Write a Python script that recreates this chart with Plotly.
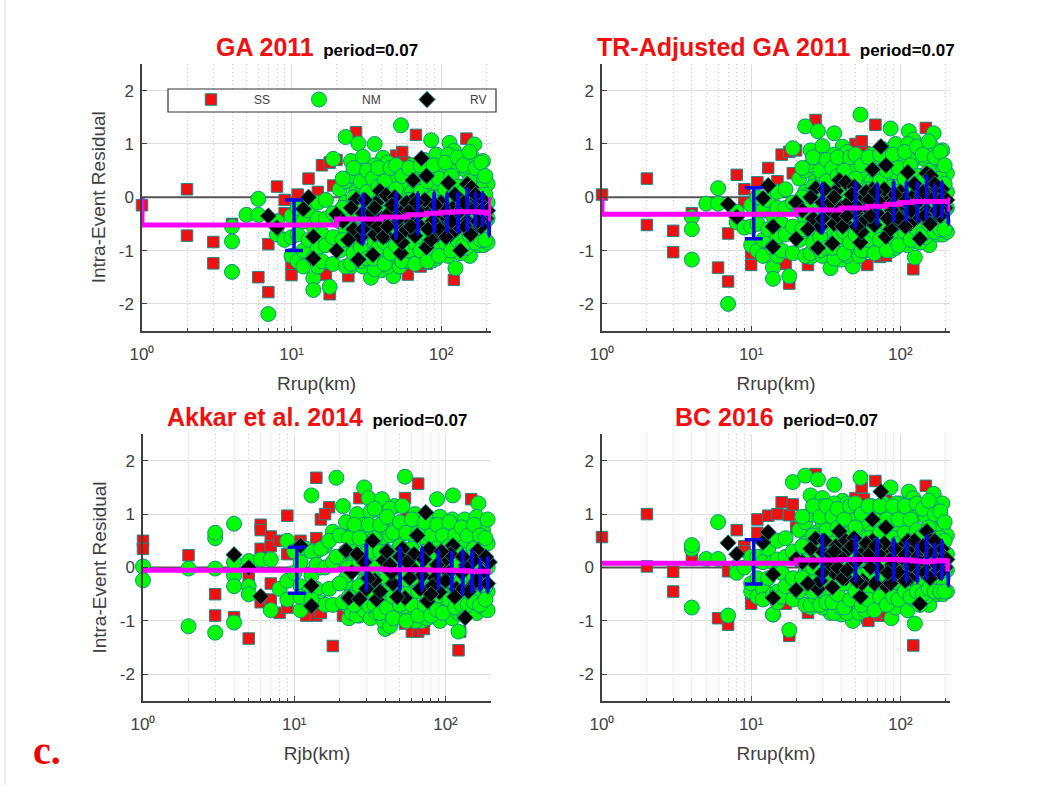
import math
import plotly.graph_objects as go

# ---------- shared axis labels ----------
X_TICKS = [1, 10, 100]
X_TICK_TEXT = ["10\u2070", "10\u00b9", "10\u00b2"]
X_MINOR = [2, 3, 4, 5, 6, 7, 8, 9, 20, 30, 40, 50, 60, 70, 80, 90, 200]
Y_TICKS = [-2, -1, 0, 1, 2]
Y_TICK_TEXT = ["-2", "-1", "0", "1", "2"]
TITLES = ["GA 2011", "TR-Adjusted GA 2011", "Akkar et al. 2014", "BC 2016"]
PERIOD = "period=0.07"
X_LABELS = ["Rrup(km)", "Rrup(km)", "Rjb(km)", "Rrup(km)"]
Y_LABEL = "Intra-Event Residual"
ZERO_R = [1, 200]
ZERO_V = [0, 0]

# ---------- strike-slip records (Rrup panels) ----------
SS_R = [1, 2, 2, 3, 3, 4, 6, 7, 7, 8, 9, 9, 10, 10, 11, 11, 13, 15, 16, 16, 17, 18, 18, 19, 20,
        24, 27, 27, 38, 50, 55, 57, 60, 61, 68, 73, 80, 80, 122, 148]
SS_GA = [-.15, .15, -.72, -.84, -1.24, -.5, -1.5, -.88, -1.78, .2, -.05, -.3, -1.46, -1.25, .05, -.2, .35, .1, .6, -.7, -1.45, -1.82, .65, .22, .7,
         -1.48, 1.22, -1.0, .6, .78, .85, .65, -1.45, -1.1, 1.17, -1.3, -1.25, .4, -1.55, 1.1]
SS_TR = [.05, .35, -.52, -.63, -1.03, -.3, -1.32, -.68, -1.58, .42, .15, -.1, -1.27, -1.05, .28, 0, .55, .3, .8, -.5, -1.25, -1.62, .85, .45, .88,
         -1.27, 1.45, -.8, .75, 1.0, 1.05, .85, -1.27, -.9, 1.36, -1.12, -1.1, .6, -1.35, 1.3]
SS_BC = [.57, 1.0, .02, -.08, -.45, .15, -.95, -.07, -1.07, .7, .4, .3, -.68, -.48, .9, .65, .97, 1.0, 1.22, -.1, -.68, -1.28, .98, 1.18, .75,
         -.85, 1.75, -.3, 1.1, 1.3, 1.5, 1.28, -.95, -1.0, 1.62, -.9, -.85, 1.25, -1.46, 1.53]

# ---------- normal records (Rrup panels) ----------
NM_R = [4, 4, 4, 5, 6, 6, 7, 8, 8, 9, 10, 10, 14, 14, 18, 19, 23, 25, 28, 30, 36, 41, 54, 86, 98, 114, 122, 167, 191,
        34, 48, 40, 125, 87, 156, 25, 10,
        11, 11, 11, 12, 12, 12, 13, 13, 14, 14, 15, 15, 15, 15, 16, 16, 17, 17, 17,
        19, 19, 19, 21, 21, 21, 23, 23, 23, 23, 25, 25, 25, 25, 27, 27, 27,
        30, 30, 30, 30, 30, 33, 33, 33, 33, 36, 36, 36, 36, 36, 40, 40, 40, 40,
        44, 44, 44, 44, 44, 48, 48, 48, 48, 53, 53, 53, 53, 53, 58, 58, 58, 58,
        64, 64, 64, 64, 70, 70, 70, 70, 77, 77, 77, 77, 85, 85, 85, 85,
        93, 93, 93, 93, 93, 102, 102, 102, 102, 112, 112, 112, 112, 112, 123, 123, 123, 123,
        135, 135, 135, 135, 135, 148, 148, 148, 148, 162, 162, 162, 162,
        178, 178, 178, 178, 192, 192, 192, 192, 205, 205, 205, 205,
        # second pass through the dense cloud
        22, 22, 22, 26, 26, 26, 26, 29, 29, 29, 29, 32, 32, 32, 32, 35, 35, 35, 35, 38, 38, 38, 38,
        42, 42, 42, 42, 46, 46, 46, 46, 50, 50, 50, 50, 55, 55, 55, 55, 61, 61, 61, 61, 67, 67, 67, 67,
        73, 73, 73, 73, 81, 81, 81, 81, 89, 89, 89, 89, 97, 97, 97, 97, 107, 107, 107, 107, 117, 117, 117, 117,
        129, 129, 129, 129, 141, 141, 141, 141, 155, 155, 155, 155, 170, 170, 170, 170, 185, 185, 185, 185, 198, 198, 198, 198]
NM_GA = [-.55, -.83, -1.4, -.33, -.03, -.33, -2.19, -.45, -.7, -.8, -.35, -1.1, -1.52, -1.74, -1.68, .72, 1.13, .68, 1.01, .76, 1.0, .74, 1.35, 1.07, .72, 1.02, .87, .99, .68,
         -1.51, -1.48, -1.37, -1.33, -1.19, -1.1, -1.3, -.75,
         -.2, -.7, -1.2, -.45, -1.0, -1.3, -.25, -.8, -.55, -1.15, -.1, -.4, -.95, -1.3, -.7, -1.2, -.05, -.4, -.9,
         -.3, -.75, -1.25, .15, -.45, -1.0, .3, -.1, -.6, -1.3, .4, -.3, -.85, -1.25, .1, -.55, -1.1,
         .5, .2, -.2, -.7, -1.3, .35, -.05, -.5, -1.0, .6, .1, -.35, -.85, -1.35, .45, -.1, -.6, -1.15,
         .65, .2, -.3, -.8, -1.3, .35, -.15, -.65, -1.1, .55, .05, -.45, -.95, -1.3, .25, -.25, -.75, -1.2,
         .6, .1, -.4, -.9, .4, -.15, -.65, -1.2, .7, .2, -.3, -.85, .45, -.05, -.55, -1.05,
         .8, .25, -.25, -.75, -1.15, .55, .05, -.45, -.95, .8, .3, -.2, -.7, -1.1, .5, 0, -.5, -.95,
         .7, .2, -.3, -.8, -1.05, .5, -.05, -.55, -.95, .75, .25, -.3, -.75,
         .45, -.1, -.55, -.9, .3, -.2, -.65, -.9, .25, -.1, -.4, -.85,
         .35, -.2, -.8, .55, 0, -.6, -1.05, .3, -.35, -.95, -1.2, .5, .1, -.3, -1.15, .35, -.15, -.6, -1.15, .55, .2, -.4, -.95,
         .3, -.3, -.85, -1.25, .55, .05, -.55, -1.05, .6, .15, -.4, -.9, .4, -.2, -.7, -1.2, .55, -.05, -.6, -1.0, .3, -.3, -.85, -1.25,
         .6, .1, -.45, -1.0, .3, -.2, -.7, -1.2, .6, 0, -.5, -.95, .35, -.1, -.6, -1.1, .65, .15, -.35, -.85, .4, -.1, -.6, -1.0,
         .75, .2, -.3, -.8, .6, .1, -.4, -.9, .85, .3, -.2, -.7, .55, .05, -.4, -.85, .65, .15, -.35, -.8, .4, .05, -.45, -.8]
NM_TR = [-.37, -.6, -1.17, -.12, .17, -.12, -2.0, -.27, -.47, -.57, -.15, -.9, -1.32, -1.53, -1.48, .92, 1.33, .88, 1.24, .96, 1.2, .95, 1.55, 1.29, .92, 1.24, 1.08, 1.2, .88,
         -1.33, -1.3, -1.17, -1.13, -1.0, -.9, -1.12, -.55,
         0, -.5, -1.0, -.25, -.8, -1.1, -.05, -.6, -.35, -.95, .1, -.2, -.75, -1.1, -.5, -1.0, .15, -.2, -.7,
         -.1, -.55, -1.05, .35, -.25, -.8, .5, .1, -.4, -1.1, .6, -.1, -.65, -1.05, .3, -.35, -.9,
         .7, .4, 0, -.5, -1.1, .55, .15, -.3, -.8, .8, .3, -.15, -.65, -1.15, .65, .1, -.4, -.95,
         .85, .4, -.1, -.6, -1.1, .55, .05, -.45, -.9, .75, .25, -.25, -.75, -1.1, .45, -.05, -.55, -1.0,
         .8, .3, -.2, -.7, .6, .05, -.45, -1.0, .9, .4, -.1, -.65, .65, .15, -.35, -.85,
         1.0, .45, -.05, -.55, -.95, .75, .25, -.25, -.75, 1.0, .5, 0, -.5, -.9, .7, .2, -.3, -.75,
         .9, .4, -.1, -.6, -.85, .7, .15, -.35, -.75, .95, .45, -.1, -.55,
         .65, .1, -.35, -.7, .5, 0, -.45, -.7, .45, .1, -.2, -.65,
         .55, 0, -.6, .75, .2, -.4, -.85, .5, -.15, -.75, -1.0, .7, .3, -.1, -.95, .55, .05, -.4, -.95, .75, .4, -.2, -.75,
         .5, -.1, -.65, -1.05, .75, .25, -.35, -.85, .8, .35, -.2, -.7, .6, 0, -.5, -1.0, .75, .15, -.4, -.8, .5, -.1, -.65, -1.05,
         .8, .3, -.25, -.8, .5, 0, -.5, -1.0, .8, .2, -.3, -.75, .55, .1, -.4, -.9, .85, .35, -.15, -.65, .6, .1, -.4, -.8,
         .95, .4, -.1, -.6, .8, .3, -.2, -.7, 1.05, .5, 0, -.5, .75, .25, -.2, -.65, .85, .35, -.15, -.6, .6, .25, -.25, -.6]
NM_BC = [.35, .42, -.75, .16, .85, .16, -.9, .02, -.1, 0, .2, -.45, -.88, -.88, -1.17, 1.6, 1.72, 1.35, 1.65, 1.3, 1.55, 1.25, 1.68, 1.5, 1.2, 1.42, 1.3, 1.38, 1.2,
         -.85, -1.0, -.88, -1.05, -.95, -.7, -.75, -.3,
         .2, -.2, -.55, .1, -.4, -.6, .35, -.2, .1, -.5, .5, .15, -.45, -.65, -.1, -.55, .55, .2, -.35,
         .3, -.2, -.6, .7, .15, -.45, .85, .45, -.1, -.7, 1.0, .3, -.3, -.7, .65, -.1, -.55,
         1.15, .85, .4, -.15, -.75, .95, .55, .1, -.5, 1.2, .7, .25, -.3, -.85, 1.05, .5, 0, -.75,
         1.2, .8, .3, -.3, -.85, .95, .45, -.1, -.6, 1.1, .6, .15, -.4, -.85, .85, .35, -.2, -.8,
         1.15, .65, .15, -.45, .95, .4, -.15, -.75, 1.2, .7, .2, -.4, 1.0, .5, 0, -.65,
         1.2, .7, .2, -.3, -.75, 1.05, .55, .05, -.5, 1.15, .75, .25, -.3, -.8, .95, .45, -.05, -.6,
         1.1, .65, .15, -.35, -.7, .95, .4, -.1, -.55, 1.15, .7, .2, -.35,
         .85, .35, -.1, -.5, .75, .25, -.2, -.5, .6, .25, -.05, -.45,
         .95, .4, -.2, 1.15, .6, 0, -.45, .95, .25, -.35, -.7, 1.15, .7, .3, -.65, .95, .45, 0, -.65, 1.1, .75, .15, -.5,
         .9, .3, -.3, -.75, 1.15, .65, .05, -.6, 1.2, .75, .2, -.45, 1.0, .4, -.15, -.7, 1.15, .55, -.05, -.6, .9, .3, -.25, -.8,
         1.15, .65, .1, -.55, .9, .35, -.15, -.7, 1.15, .55, 0, -.55, .9, .45, -.05, -.6, 1.15, .65, .15, -.45, .9, .4, -.1, -.55,
         1.2, .7, .2, -.45, 1.1, .6, .1, -.5, 1.25, .75, .25, -.4, 1.0, .5, .05, -.45, 1.05, .55, .05, -.45, .85, .5, -.05, -.45]

# ---------- reverse records (Rrup panels) ----------
RV_R = [7, 8, 12, 13, 14, 14, 20, 20, 28, 35, 27, 26, 37, 36, 39, 43, 43, 54, 56, 57, 49, 65, 74, 80, 80, 67, 84, 112, 135, 150, 160,
        127, 103, 173, 30, 33, 40, 45, 50, 60, 65, 70, 75, 90, 95, 100, 110, 120, 130, 140, 150, 165, 180, 190, 200,
        22, 25, 29, 31, 34, 38, 41, 47, 52, 55, 59, 63, 72, 78, 86, 88, 98, 106, 116, 124, 145, 155, 170, 185, 195,
        24, 30, 36, 44, 51, 62, 68, 82, 92, 108, 118, 142, 158, 176, 205]
RV_GA = [-.35, -.57, -.22, 0, -.74, -1.15, -1.0, -.32, -1.17, -1.08, -.04, -.6, -.1, -.7, .12, .04, -.72, -1.05, -.66, -.22, 0, .32, .73, .4, -.94, -.72, -.2, .27, -1.0, .25, .18,
         -.6, -.54, -.54, -.3, -.5, -.4, -.3, -.5, -.4, -.05, -.5, -.2, -.35, -.7, -.1, -.4, -.2, -.3, -.15, -.45, -.1, -.3, -.05, -.4,
         -.45, -.2, -.75, -.05, -.3, -.55, -.75, -.15, -.4, -.85, -.1, -.55, -.3, -.05, -.8, -.45, -.6, -.25, -.7, .05, -.55, -.2, .05, -.55, -.2,
         -.8, -.6, -.2, -.55, -.75, -.25, -.1, -.6, -.15, -.75, -.45, -.1, -.7, -.45, -.25]
RV_TR = [-.13, -.37, -.02, .22, -.55, -.93, -.78, -.1, -.95, -.87, .17, -.4, .12, -.5, .32, .28, -.5, -.85, -.47, 0, .2, .52, .95, .6, -.74, -.52, 0, .47, -.78, .45, .4,
         -.4, -.33, -.33, -.1, -.3, -.2, -.1, -.3, -.2, .15, -.3, 0, -.15, -.5, .1, -.2, 0, -.1, .05, -.25, .1, -.1, .15, -.2,
         -.25, 0, -.55, .15, -.1, -.35, -.55, .05, -.2, -.65, .1, -.35, -.1, .15, -.6, -.25, -.4, -.05, -.5, .25, -.35, 0, .25, -.35, 0,
         -.6, -.4, 0, -.35, -.55, -.05, .1, -.4, .05, -.55, -.25, .1, -.5, -.25, -.05]
RV_BC = [.46, .25, .47, .66, -.13, -.57, -.42, .16, -.4, -.37, .54, .1, .4, -.1, .68, .5, -.2, -.55, -.25, .3, .55, .9, 1.42, .75, -.35, -.3, .2, .5, -.68, .68, .5,
         0, .1, -.1, .3, .05, .2, .35, .1, .2, .5, 0, .3, .2, -.15, .35, .1, .3, .2, .35, .05, .4, .2, .35, 0,
         .1, .35, -.25, .5, .25, 0, -.2, .4, .15, -.3, .45, 0, .25, .45, -.3, .05, -.1, .25, -.2, .5, -.1, .3, .5, -.1, .2,
         -.3, -.1, .3, -.05, -.25, .25, .4, -.1, .35, -.25, .05, .4, -.2, .05, .15]

# ---------- Akkar et al. 2014 (Rjb panel) ----------
SS_RJB = [1, 1, 2, 3, 3, 4, 5, 5, 6, 6, 6, 6, 7, 7, 7, 7, 8, 8, 9, 9, 9, 11, 12, 14, 14, 14, 15, 15, 17, 16, 18, 21,
          27, 54, 56, 66, 54, 60, 66, 72, 122, 148, 125]
SS_AK = [.5, .35, .23, -.5, -.9, -.93, -1.33, -.2, .8, .7, .35, -.65, .58, .4, -.6, -.3, .5, -.85, .97, .25, -.75, .5, -.9, 1.68, .55, -.9, -.85, .9, 1.13, 1.0, -1.47, -.9,
         1.3, 1.3, .95, 1.57, -1.05, -1.2, -1.2, -1.15, -1.55, 1.28, -1.2]
NM_RJB = [1, 1, 2, 2, 3, 3, 3, 3, 4, 4, 4, 4, 4, 5, 5, 5, 6, 7, 7, 8, 9, 9, 9, 11, 10, 12, 13, 13, 14, 15, 16, 19, 18, 20, 21, 23, 27, 29, 31, 38, 46, 40, 54, 70, 88, 112, 122, 165, 175,
          22, 22, 22, 22, 24, 24, 24, 24, 26, 26, 26, 26, 26, 29, 29, 29, 29, 32, 32, 32, 32, 32, 35, 35, 35, 35, 39, 39, 39, 39, 39,
          43, 43, 43, 43, 43, 47, 47, 47, 47, 52, 52, 52, 52, 52, 57, 57, 57, 57, 63, 63, 63, 63, 63, 69, 69, 69, 69,
          76, 76, 76, 76, 76, 84, 84, 84, 84, 92, 92, 92, 92, 92, 101, 101, 101, 101, 111, 111, 111, 111, 111,
          122, 122, 122, 122, 134, 134, 134, 134, 134, 147, 147, 147, 147, 161, 161, 161, 161, 161, 177, 177, 177, 177, 190, 190, 190, 190, 190, 203, 203, 203, 203,
          # second pass through the dense cloud
          10, 11, 11, 12, 13, 14, 14, 15, 15, 16, 16, 17, 17, 18, 18, 19, 20, 20, 21, 11, 13,
          23, 23, 23, 25, 25, 25, 27, 27, 27, 31, 31, 31, 31, 34, 34, 34, 34, 37, 37, 37, 37, 41, 41, 41, 41,
          45, 45, 45, 45, 50, 50, 50, 50, 55, 55, 55, 55, 60, 60, 60, 60, 66, 66, 66, 66, 73, 73, 73, 73,
          80, 80, 80, 80, 88, 88, 88, 88, 96, 96, 96, 96, 106, 106, 106, 106, 116, 116, 116, 116,
          128, 128, 128, 128, 140, 140, 140, 140, 154, 154, 154, 154, 169, 169, 169, 169, 184, 184, 184, 184, 198, 198, 198, 198]
NM_AK = [.02, -.24, -.02, -1.1, -.02, .55, .65, -1.22, .82, .1, -.15, -.35, -1.03, -.35, -.5, .12, .15, .15, -.8, -.4, .5, -.25, -.6, -.8, -.1, .35, -.15, 1.35, .3, 0, .4, 1.68, .67, .15, 1.15, -.95, -.9, 1.5, 1.3, 1.28, 1.15, -1.15, 1.7, -1.0, 1.28, 1.35, -1.2, 1.2, .85,
         .85, .3, -.2, -.7, .6, .05, -.4, -.85, 1.0, .5, 0, -.45, -.9, .8, .3, -.25, -.8, 1.05, .55, .05, -.5, -.95, .75, .25, -.25, -.85, 1.0, .55, .05, -.5, -1.0,
         1.1, .6, .1, -.45, -1.1, .8, .3, -.2, -.8, 1.15, .65, .15, -.35, -.95, .8, .3, -.25, -.85, 1.0, .55, .05, -.45, -1.0, .8, .25, -.25, -.85,
         .95, .45, -.05, -.55, -.95, .75, .25, -.3, -.8, .95, .45, -.05, -.55, -1.0, .8, .3, -.2, -.75, .9, .45, -.05, -.5, -.95,
         .7, .2, -.3, -.85, .9, .45, -.05, -.55, -.9, .7, .2, -.3, -.8, .95, .5, 0, -.45, -.85, .7, .2, -.3, -.75, .9, .45, 0, -.45, -.8, .45, .1, -.25, -.65,
         .3, .1, -.35, -.5, .3, -.4, .05, .35, -.65, 0, -.7, -.4, .5, -.7, .1, .2, -.3, .6, -.65, -.55, -.6,
         .55, 0, -.55, .8, .3, -.7, .55, .1, -.35, .8, .3, -.2, -.7, 1.1, .55, 0, -.7, .8, .3, -.3, -.85,
         .95, .3, -.2, -.75, .65, .1, -.55, -.95, .85, .4, -.1, -.7, .65, .15, -.5, -1.0, .9, .35, -.2, -.7, .65, .1, -.45, -.9,
         .85, .3, -.15, -.7, .6, .1, -.4, -.9, .8, .25, -.3, -.8, .6, .15, -.35, -.85, .85, .4, -.15, -.6,
         .6, .1, -.4, -.75, .75, .25, -.25, -.7, .6, .05, -.4, -.7, .8, .35, -.15, -.65, .6, .2, -.3, -.7, .55, .15, -.35, -.6]
RV_RJB = [4, 5, 6, 11, 13, 13, 22, 23, 33, 35, 39, 54, 65, 74, 76, 112, 135, 163, 27, 24, 34, 52, 78, 70, 91, 118, 96, 137, 175, 195,
          29, 45, 60, 85, 105, 125, 150,
          26, 31, 37, 41, 44, 48, 50, 58, 62, 68, 72, 82, 88, 100, 108, 115, 128, 142, 155, 170, 185, 30, 43, 56, 80, 94, 130, 160, 190]
RV_AK = [.24, 0, -.54, .41, -.34, -.72, .32, -.57, .5, -.6, .13, -.57, .6, 1.03, -.63, .41, -.94, .32, -.59, -.09, -.24, .35, .35, -.15, -.46, -.4, .1, .04, -.09, .1,
         .1, -.3, 0, -.2, -.1, -.45, -.35,
         .25, -.2, -.45, .3, -.1, -.55, .2, -.2, .25, -.4, .15, -.35, .05, -.25, .25, -.55, -.1, -.45, .15, -.3, .2, -.4, .05, .1, -.5, .3, .2, -.25, -.3]

# ---------- binned means (magenta steps) ----------
BIN_R = [1, 1, 20, 40, 60, 80, 100, 120, 140, 160, 180, 200, 215, 215]
BIN_GA = [0, -.52, -.41, -.37, -.33, -.3, -.28, -.27, -.27, -.27, -.28, -.3, -.45, 0]
BIN_TR = [0, -.32, -.24, -.2, -.17, -.13, -.1, -.08, -.08, -.08, -.08, -.08, -.27, 0]
BIN_AK_R = [1, 20, 40, 60, 80, 100, 120, 140, 160, 180, 205]
BIN_AK = [-.05, -.03, -.04, -.04, -.05, -.05, -.06, -.07, -.07, -.07, -.05]
BIN_BC_R = [1, 20, 40, 60, 80, 100, 120, 140, 160, 180, 200, 208, 220]
BIN_BC = [.08, .14, .15, .15, .15, .14, .12, .11, .12, .13, .12, -.03, -.03]

# ---------- binned +/- 1 sigma (blue bars) ----------
BAR_R = [10.4, 30, 50, 70, 90, 110, 130, 150, 170, 190, 210]
BAR_GA_LO = [-1.0, -.88, -.77, -.69, -.65, -.65, -.65, -.62, -.53, -.53, -.72]
BAR_GA_HI = [-.05, .05, .08, .08, .09, .08, .08, .16, .08, .08, -.27]
BAR_TR_LO = [-.78, -.67, -.57, -.5, -.44, -.44, -.44, -.41, -.35, -.38, -.5]
BAR_TR_HI = [.18, .26, .27, .26, .3, .29, .27, .4, .24, .29, -.09]
BAR_AK_R = [10.4, 30, 50, 70, 90, 110, 130, 150, 170, 190]
BAR_AK_LO = [-.48, -.43, -.43, -.42, -.4, -.43, -.49, -.46, -.43, -.46]
BAR_AK_HI = [.38, .44, .38, .37, .32, .29, .32, .32, .16, .19]
BAR_BC_LO = [-.31, -.29, -.26, -.24, -.24, -.26, -.27, -.21, -.15, -.21, -.34]
BAR_BC_HI = [.52, .61, .59, .54, .54, .49, .44, .6, .44, .5, -.02]

W, H = 1041, 785
RED, GREEN, TEAL, BLUE, MAGENTA = "#f01010", "#00ff00", "#158a8a", "#0a0ae0", "#ff00ff"
AX = "#404040"
FONT = "Liberation Sans"

fig = go.Figure()

PANELS = [
    dict(box=(142, 491, 64, 330.5), xmax=216, ss=(SS_R, SS_GA), nm=(NM_R, NM_GA), rv=(RV_R, RV_GA),
         bin=(BIN_R, BIN_GA), bar=(BAR_R, BAR_GA_LO, BAR_GA_HI), tc=317),
    dict(box=(602, 950, 64, 330.5), xmax=215, ss=(SS_R, SS_TR), nm=(NM_R, NM_TR), rv=(RV_R, RV_TR),
         bin=(BIN_R, BIN_TR), bar=(BAR_R, BAR_TR_LO, BAR_TR_HI), tc=776),
    dict(box=(143, 491, 434, 701), xmax=200, ss=(SS_RJB, SS_AK), nm=(NM_RJB, NM_AK), rv=(RV_RJB, RV_AK),
         bin=(BIN_AK_R, BIN_AK), bar=(BAR_AK_R, BAR_AK_LO, BAR_AK_HI), tc=317),
    dict(box=(602, 950, 434, 701), xmax=215, ss=(SS_R, SS_BC), nm=(NM_R, NM_BC), rv=(RV_R, RV_BC),
         bin=(BIN_BC_R, BIN_BC), bar=(BAR_R, BAR_BC_LO, BAR_BC_HI), tc=776),
]

layout = {}
annots = []
for i, p in enumerate(PANELS):
    n = "" if i == 0 else str(i + 1)
    xa, ya = "x" + n, "y" + n
    x0, x1, y0, y1 = p["box"]
    layout["xaxis" + n] = dict(
        type="log", range=[0, math.log10(p["xmax"])], domain=[x0 / W, x1 / W], anchor=ya,
        tickvals=X_TICKS, ticktext=X_TICK_TEXT, ticks="inside", ticklen=5, tickcolor=AX,
        showline=True, linecolor=AX, linewidth=1.5, zeroline=False, automargin=False,
        showgrid=True, gridcolor="#dddddd", gridwidth=1, ticklabelstandoff=7,
        minor=dict(tickvals=X_MINOR, ticks="inside", ticklen=3, tickcolor=AX, showgrid=True,
                   gridcolor="#c8c8c8", griddash="1px,3px", gridwidth=1),
        tickfont=dict(family=FONT, size=17, color=AX),
        title=dict(text=X_LABELS[i], font=dict(family=FONT, size=19, color=AX), standoff=14),
    )
    yax = dict(
        range=[-2.5, 2.5], domain=[1 - y1 / H, 1 - y0 / H], anchor=xa, automargin=False,
        tickvals=Y_TICKS, ticktext=Y_TICK_TEXT, ticks="inside", ticklen=5, tickcolor=AX,
        showline=True, linecolor=AX, linewidth=1.5, zeroline=False, ticklabelstandoff=3,
        showgrid=True, gridcolor="#dddddd", gridwidth=1,
        tickfont=dict(family=FONT, size=17, color=AX),
    )
    if i in (0, 2):
        yax["title"] = dict(text=Y_LABEL, font=dict(family=FONT, size=19, color=AX), standoff=8)
    layout["yaxis" + n] = yax
    common = dict(xaxis=xa, yaxis=ya, cliponaxis=False)
    fig.add_trace(go.Scatter(x=ZERO_R, y=ZERO_V, mode="lines", line=dict(color="#555555", width=2),
                             showlegend=False, hoverinfo="skip", **common))
    fig.add_trace(go.Scatter(x=p["ss"][0], y=p["ss"][1], mode="markers", name="SS", showlegend=i == 0,
                             marker=dict(symbol="square", size=11.5, color=RED, line=dict(color=TEAL, width=1)), **common))
    fig.add_trace(go.Scatter(x=p["nm"][0], y=p["nm"][1], mode="markers", name="NM", showlegend=i == 0,
                             marker=dict(symbol="circle", size=15, color=GREEN, line=dict(color=TEAL, width=1)), **common))
    fig.add_trace(go.Scatter(x=p["rv"][0], y=p["rv"][1], mode="markers", name="RV", showlegend=i == 0,
                             marker=dict(symbol="diamond", size=12.5, color="#000000", line=dict(color=TEAL, width=1)), **common))
    br, lo, hi = p["bar"]
    ups = [h - l for h, l in zip(hi, lo)]
    fig.add_trace(go.Scatter(x=br[:1], y=lo[:1], mode="markers", marker=dict(size=1, opacity=0), showlegend=False,
                             error_y=dict(type="data", symmetric=False, array=ups[:1], arrayminus=[0],
                                          color=BLUE, thickness=3.5, width=9), hoverinfo="skip", **common))
    fig.add_trace(go.Scatter(x=br[1:], y=lo[1:], mode="markers", marker=dict(size=1, opacity=0), showlegend=False,
                             error_y=dict(type="data", symmetric=False, array=ups[1:], arrayminus=[0] * len(ups[1:]),
                                          color=BLUE, thickness=4, width=1), hoverinfo="skip", **common))
    bx, by = p["bin"]
    fig.add_trace(go.Scatter(x=bx, y=by, mode="lines", line=dict(color=MAGENTA, width=5, shape="hv", simplify=False),
                             showlegend=False, hoverinfo="skip", **common))
    annots.append(dict(
        xref="paper", yref="paper", x=p["tc"] / W, y=1 - (y0 - 17) / H, xanchor="center", yanchor="middle", showarrow=False,
        text=f"<b><span style='color:#f01010;font-size:25px'>{TITLES[i]}</span>"
             f"<span style='font-size:17px;color:#000'>&nbsp;&nbsp;{PERIOD}</span></b>",
        font=dict(family=FONT, size=17, color="#000000"),
    ))

annots.append(dict(xref="paper", yref="paper", x=31 / W, y=1 - 750 / H, xanchor="left", yanchor="middle", showarrow=False,
                   text="<b>c.</b>", font=dict(family="Liberation Serif", size=40, color="#f00000")))

fig.update_layout(
    width=W, height=H, margin=dict(l=0, r=0, t=0, b=0),
    paper_bgcolor="white", plot_bgcolor="white", annotations=annots,
    legend=dict(x=168 / W, y=1 - 85 / H, xanchor="left", yanchor="top", orientation="h",
                borderwidth=0, bgcolor="rgba(0,0,0,0)",
                itemwidth=76, entrywidth=17, entrywidthmode="pixels", font=dict(family=FONT, size=12, color=AX)),
    shapes=[dict(type="rect", xref="paper", yref="paper", x0=4 / W, x1=6 / W, y0=0, y1=1, line_width=0,
                 fillcolor="#eeeeee", layer="below"),
            dict(type="rect", xref="paper", yref="paper", x0=168 / W, x1=496 / W, y0=1 - 112 / H, y1=1 - 89 / H,
                 line=dict(color="#333333", width=1.2), fillcolor="white", layer="above")],
    **layout,
)
fig.write_html("out.html", post_script="document.body.style.margin='0';", config={"displayModeBar": False})
